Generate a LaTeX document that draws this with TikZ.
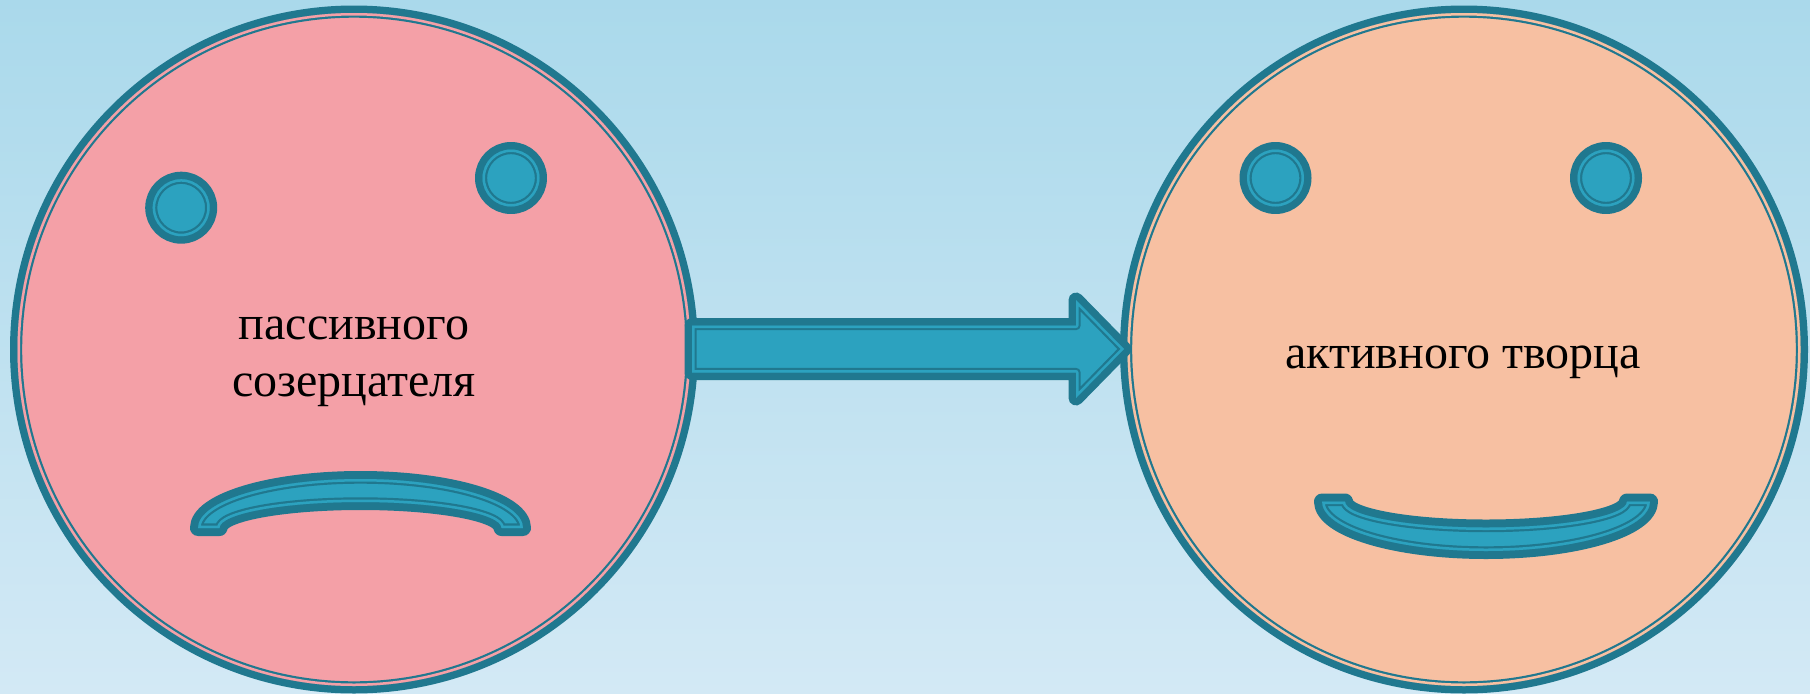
\documentclass[tikz,border=0pt]{standalone}
\usepackage{fontspec}
\setmainfont{Liberation Serif}
\definecolor{bgTop}{HTML}{AAD9EB}
\definecolor{bgBot}{HTML}{D3E9F5}
\definecolor{ringDark}{HTML}{20788F}
\definecolor{shapeBlue}{HTML}{2CA2BF}
\definecolor{facePink}{HTML}{F4A0A7}
\definecolor{facePeach}{HTML}{F7C0A2}
% #1 path, #2 fill, #3 outer dark width (px), #4 light band width (px)
\newcommand{\compound}[4]{%
  \draw[ringDark,line width=1.5pt*#3,line join=round] #1;
  \fill[#2] #1;
  \begin{scope}
    \clip #1;
    \draw[ringDark,line width=1.5pt*(#4+2.2),line join=round] #1;
    \draw[#2,line width=1.5pt*#4,line join=round] #1;
  \end{scope}}
\tikzset{x=0.75pt,y=-0.75pt,
  facetext/.style={font=\fontsize{36}{42.5}\selectfont,align=center,text=black,inner sep=0pt}}
\begin{document}
\begin{tikzpicture}
\useasboundingbox (0,0) rectangle (1810,693);
\shade[top color=bgTop,bottom color=bgBot] (0,0) rectangle (1810,693);
% faces
\compound{(354,349.5) circle[radius=336.5]}{facePink}{7.5}{2.5}
\compound{(1464,349.5) circle[radius=336.5]}{facePeach}{7.5}{2.5}
% eyes
\compound{(181.2,207.7) circle[radius=28.5]}{shapeBlue}{7.5}{2.5}
\compound{(511,178) circle[radius=28.5]}{shapeBlue}{7.5}{2.5}
\compound{(1275.5,178) circle[radius=28.5]}{shapeBlue}{7.5}{2.5}
\compound{(1606,178) circle[radius=28.5]}{shapeBlue}{7.5}{2.5}
% frown
\compound{(198,528) arc[start angle=180,end angle=360,x radius=162.5,y radius=49] -- (501.5,528) arc[start angle=360,end angle=180,x radius=141,y radius=26] -- cycle}{shapeBlue}{8}{2.5}
% smile
\compound{(1322,501.5) arc[start angle=180,end angle=0,x radius=164,y radius=49.5] -- (1627,501.5) arc[start angle=0,end angle=180,x radius=141,y radius=26] -- cycle}{shapeBlue}{8}{2.5}
% arrow
\compound{(692,325.5) -- (1076,325.5) -- (1076,300) -- (1124,349) -- (1076,398) -- (1076,372.5) -- (692,372.5) -- cycle}{shapeBlue}{7.5}{2.5}
% text
\node[facetext] (passive) at (354,361.5) {пассивного\\созерцателя};
\node[facetext] (active) at (1463,362.5) {активного творца};
\end{tikzpicture}
\end{document}
